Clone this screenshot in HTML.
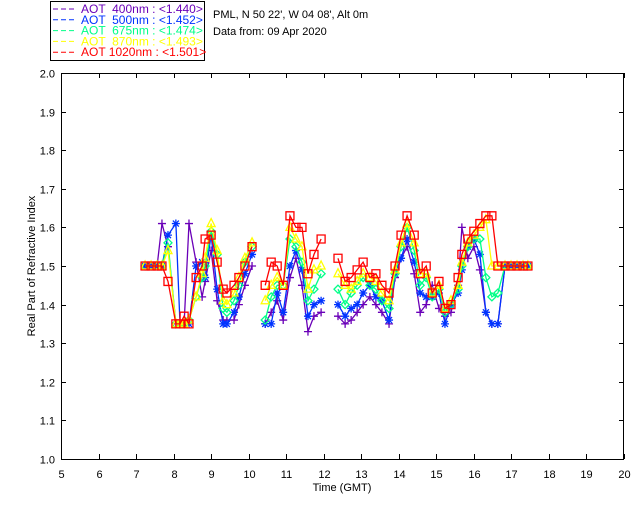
<!DOCTYPE html>
<html><head><meta charset="utf-8"><style>
body{margin:0;background:#fff}
svg{display:block;font-family:"Liberation Sans",sans-serif}
</style></head><body>
<svg id="c" width="640" height="512">
<rect x="0" y="0" width="640" height="512" fill="#fff"/>
<g id="legend">
<rect x="50.5" y="1.5" width="154" height="59" fill="#fff" stroke="#000"/>
</g>
<text x="213" y="18" font-size="11">PML, N 50 22', W 04 08', Alt 0m</text>
<text x="213" y="35" font-size="11">Data from: 09 Apr 2020</text>
<rect x="61.5" y="73.5" width="562" height="386" fill="none" stroke="#000"/>
<g id="axes"></g>
<g id="series"></g>
<text x="342" y="491" font-size="11" text-anchor="middle">Time (GMT)</text>
<text transform="translate(35,266) rotate(-90)" font-size="11" text-anchor="middle">Real Part of Refractive Index</text>
</svg>
<script>
const xTicks=[5,6,7,8,9,10,11,12,13,14,15,16,17,18,19,20];
const yTicks=[1.0,1.1,1.2,1.3,1.4,1.5,1.6,1.7,1.8,1.9,2.0];
const seriesNames=["AOT  400nm : <1.440>","AOT  500nm : <1.452>","AOT  675nm : <1.474>","AOT  870nm : <1.493>","AOT 1020nm : <1.501>"];
const times=[7.24,7.40,7.56,7.69,7.85,8.06,8.17,8.28,8.41,8.60,8.76,8.84,9.00,9.16,9.32,9.42,9.61,9.74,9.90,10.09,null,10.44,10.60,10.76,10.92,11.10,11.26,11.42,11.58,11.74,11.93,null,12.38,12.57,12.73,12.89,13.05,13.23,13.39,13.55,13.74,13.90,14.06,14.22,14.41,14.57,14.73,14.89,15.07,15.23,15.39,15.58,15.68,15.84,16.00,16.16,16.32,16.48,16.64,16.83,16.99,17.15,17.31,17.44];
const v400=[1.50,1.50,1.50,1.61,1.55,1.35,1.35,1.35,1.61,1.51,1.42,1.46,1.54,1.41,1.36,1.36,1.36,1.40,1.45,1.50,null,1.35,1.38,1.41,1.36,1.47,1.52,1.45,1.33,1.37,1.38,null,1.37,1.35,1.36,1.38,1.40,1.42,1.40,1.38,1.35,1.47,1.52,1.55,1.48,1.38,1.40,1.45,1.39,1.37,1.38,1.45,1.60,1.52,1.55,1.49,1.38,1.35,1.35,1.50,1.50,1.50,1.50,1.50];
const v500=[1.50,1.50,1.50,1.50,1.58,1.61,1.35,1.35,1.35,1.50,1.51,1.47,1.58,1.44,1.35,1.35,1.38,1.42,1.48,1.53,null,1.35,1.35,1.43,1.38,1.50,1.54,1.49,1.37,1.40,1.41,null,1.40,1.37,1.39,1.40,1.43,1.45,1.42,1.41,1.36,1.48,1.52,1.57,1.51,1.43,1.42,1.42,1.43,1.35,1.40,1.43,1.49,1.55,1.57,1.53,1.38,1.35,1.35,1.50,1.50,1.50,1.50,1.50];
const v675=[1.50,1.50,1.50,1.50,1.56,1.35,1.35,1.35,1.36,1.42,1.47,1.50,1.59,1.53,1.39,1.38,1.41,1.45,1.51,1.55,null,1.36,1.42,1.45,1.45,1.57,1.55,1.51,1.41,1.44,1.48,null,1.44,1.40,1.43,1.45,1.47,1.45,1.44,1.41,1.39,1.48,1.55,1.60,1.54,1.45,1.47,1.42,1.44,1.38,1.40,1.44,1.50,1.55,1.57,1.57,1.47,1.42,1.43,1.50,1.50,1.50,1.50,1.50];
const v870=[1.50,1.50,1.50,1.50,1.54,1.35,1.35,1.35,1.36,1.42,1.48,1.52,1.61,1.54,1.41,1.40,1.43,1.47,1.52,1.56,null,1.41,1.45,1.47,1.45,1.60,1.57,1.55,1.44,1.49,1.50,null,1.48,1.45,1.44,1.46,1.48,1.47,1.46,1.43,1.41,1.49,1.56,1.61,1.56,1.48,1.48,1.43,1.45,1.39,1.41,1.45,1.51,1.56,1.58,1.60,1.62,1.50,1.50,1.50,1.50,1.50,1.50,1.50];
const v1020=[1.50,1.50,1.50,1.50,1.46,1.35,1.35,1.37,1.35,1.47,1.50,1.57,1.58,1.51,1.44,1.43,1.45,1.47,1.50,1.55,null,1.45,1.51,1.50,1.45,1.63,1.60,1.60,1.48,1.53,1.57,null,1.52,1.46,1.47,1.49,1.51,1.47,1.48,1.45,1.43,1.50,1.58,1.63,1.58,1.48,1.50,1.43,1.46,1.39,1.40,1.47,1.53,1.57,1.59,1.61,1.63,1.63,1.50,1.50,1.50,1.50,1.50,1.50];
const colors=["#6a00b8","#0033ff","#00ff88","#ffff00","#ff0000"];
const NS="http://www.w3.org/2000/svg";
const X=t=>61+(t-5)*(563/15);
const Y=v=>459-(v-1)*386;
function mk(tag,attrs,parent){const e=document.createElementNS(NS,tag);for(const k in attrs)e.setAttribute(k,attrs[k]);parent.appendChild(e);return e;}
const ax=document.getElementById('axes');
xTicks.forEach(t=>{
 const x=Math.round(X(t))+0.5;
 const l=mk('path',{d:`M${x} 459V454M${x} 73V78`,stroke:'#000'},ax);
 
 
 const tx=mk('text',{x:x,y:478,'font-size':11,'text-anchor':'middle'},ax);tx.textContent=t;
 
 
});
yTicks.forEach(v=>{
 const y=Math.round(Y(v))+0.5;
 const l=mk('path',{d:`M61 ${y}H66M624 ${y}H619`,stroke:'#000'},ax);
 
 
 const tx=mk('text',{x:55,y:y+4,'font-size':11,'text-anchor':'end'},ax);tx.textContent=v.toFixed(1);
 
 
});
const sg=document.getElementById('series');
const allVals=[v400,v500,v675,v870,v1020];
const mkNames=['plus','asterisk','diamond','triangle','square'];
function marker(type,x,y,c,g){
 let d;
 if(type==='plus')d=`M${x-4} ${y}H${x+4}M${x} ${y-4}V${y+4}`;
 else if(type==='asterisk')d=`M${x-4} ${y}H${x+4}M${x} ${y-4}V${y+4}M${x-3} ${y-3}L${x+3} ${y+3}M${x-3} ${y+3}L${x+3} ${y-3}`;
 else if(type==='diamond')d=`M${x} ${y-4}L${x+4} ${y}L${x} ${y+4}L${x-4} ${y}Z`;
 else if(type==='triangle')d=`M${x} ${y-5}L${x+4} ${y+3}L${x-4} ${y+3}Z`;
 else d=`M${x-4} ${y-4}H${x+4}V${y+4}H${x-4}Z`;
 const m=mk('path',{d:d,stroke:c,fill:'none','stroke-width':1.3},g);
 
 
}
allVals.forEach((vals,si)=>{
 const g=mk('g',{},sg);
 
 
 let d='',pen=false;
 times.forEach((t,i)=>{
  if(t===null||vals[i]===null){pen=false;return;}
  d+=(pen?'L':'M')+X(t).toFixed(1)+' '+Y(vals[i]).toFixed(1);pen=true;
 });
 const ln=mk('path',{d:d,stroke:colors[si],fill:'none','stroke-width':1.3},g);
 
 
 times.forEach((t,i)=>{if(t!==null&&vals[i]!==null)marker(mkNames[si],X(t),Y(vals[i]),colors[si],g);});
});
const lg=document.getElementById('legend');
seriesNames.forEach((n,i)=>{
 const y=13+i*10.8;
 const l=mk('path',{d:`M53 ${y-4}H75`,stroke:colors[i],'stroke-dasharray':'5 3'},lg);
 
 
 const t=mk('text',{x:81,y:y,'font-size':12,fill:colors[i]},lg);
 t.setAttribute('style','white-space:pre');
 t.textContent=n;
 
 
});
</script>
</body></html>
